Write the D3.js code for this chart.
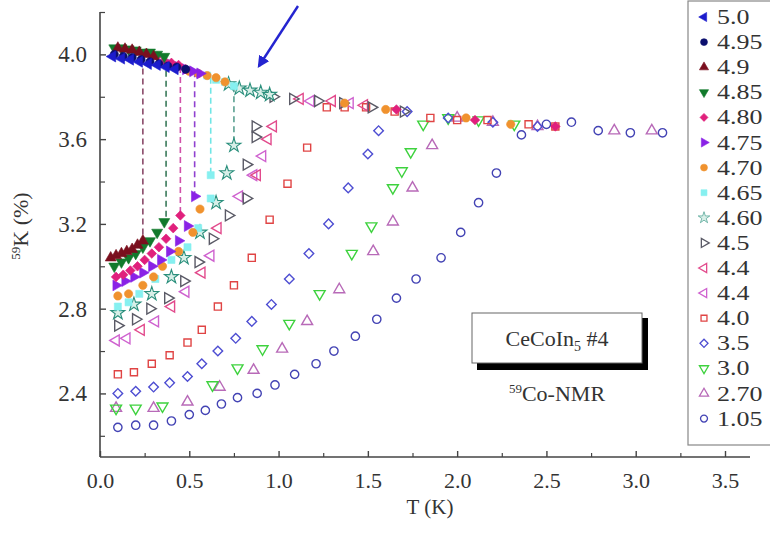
<!DOCTYPE html>
<html><head><meta charset="utf-8">
<script src="https://cdn.jsdelivr.net/npm/d3@7"></script>
<style>
html,body{margin:0;padding:0;background:#fff;}
svg{display:block;}
svg text{font-family:"Liberation Serif","DejaVu Serif",serif !important;}
</style></head>
<body><svg id="c" width="770" height="535"></svg>
<script>
// ---- data ----
const fields = ["5.0","4.95","4.9","4.85","4.80","4.75","4.70","4.65","4.60","4.5","4.4","4.4","4.0","3.5","3.0","2.70","1.05"];
const T_50  = [0.07,0.12,0.17,0.22,0.27,0.32,0.37,0.42];
const K_50  = [3.99,3.98,3.975,3.965,3.955,3.95,3.94,3.93];
const T_495 = [0.08,0.13,0.18,0.23,0.28,0.33,0.38,0.43,0.48];
const K_495 = [4.00,3.99,3.985,3.975,3.965,3.955,3.945,3.94,3.93];
const T_49  = [0.10,0.14,0.18,0.22,0.26,0.30, 0.06,0.09,0.12,0.15,0.18,0.21,0.24];
const K_49  = [4.03,4.025,4.02,4.01,4.00,3.99, 3.04,3.05,3.06,3.07,3.08,3.10,3.12];
const T_485 = [0.08,0.12,0.16,0.20,0.24,0.28,0.32,0.36, 0.08,0.12,0.16,0.20,0.24,0.28,0.32,0.36];
const K_485 = [4.03,4.03,4.025,4.02,4.01,4.01,4.00,3.99, 3.00,3.02,3.04,3.06,3.09,3.12,3.16,3.21];
const T_480 = [0.28,0.32,0.36,0.40,0.44,0.48,1.66,2.10,2.55, 0.09,0.13,0.17,0.21,0.25,0.29,0.33,0.37,0.41,0.45];
const K_480 = [4.00,3.99,3.97,3.96,3.95,3.93,3.74,3.69,3.66, 2.95,2.96,2.98,3.00,3.03,3.06,3.09,3.13,3.18,3.24];
const T_475 = [0.40,0.44,0.48,0.52,0.56, 0.09,0.14,0.19,0.24,0.29,0.34,0.39,0.44,0.49,0.53];
const K_475 = [3.95,3.94,3.93,3.92,3.91, 2.91,2.93,2.95,2.97,3.00,3.03,3.07,3.12,3.19,3.33];
const T_470 = [0.50,0.55,0.60,0.65,0.70,1.37,1.60,2.05,2.30, 0.10,0.16,0.24,0.30,0.35,0.44,0.52,0.56];
const K_470 = [3.92,3.91,3.90,3.89,3.87,3.77,3.74,3.70,3.67, 2.86,2.87,2.91,2.95,3.00,3.07,3.16,3.27];
const T_465 = [0.60,0.65,0.70,0.75, 0.10,0.16,0.22,0.31,0.40,0.49,0.55,0.62,0.62];
const K_465 = [3.90,3.88,3.87,3.85, 2.81,2.83,2.87,2.94,3.03,3.09,3.18,3.32,3.43];
const T_460 = [0.72,0.78,0.84,0.90,0.95, 0.10,0.19,0.29,0.40,0.47,0.56,0.65,0.71,0.75];
const K_460 = [3.86,3.84,3.83,3.82,3.81, 2.78,2.82,2.87,2.95,3.04,3.16,3.30,3.44,3.57];
const T_45  = [0.10,0.20,0.28,0.38,0.47,0.55,0.63,0.72,0.82,0.82,0.87,0.87,0.97,1.08,1.22,1.36,1.52,1.70];
const K_45  = [2.72,2.75,2.80,2.85,2.93,3.02,3.13,3.24,3.32,3.48,3.61,3.66,3.80,3.79,3.78,3.77,3.75,3.73];
const T_44a = [0.23,0.40,0.57,0.66,0.88,0.94,0.97,1.12,1.30,1.48];
const K_44a = [2.70,2.81,2.97,3.18,3.43,3.60,3.66,3.79,3.78,3.76];
const T_44b = [0.09,0.15,0.31,0.48,0.62,0.78,0.86,0.91,1.18,1.40];
const K_44b = [2.65,2.66,2.74,2.88,3.05,3.33,3.43,3.52,3.78,3.77];
const T_40  = [0.10,0.19,0.29,0.39,0.49,0.57,0.66,0.75,0.85,0.95,1.05,1.16,1.27,1.37,1.49,1.65,1.85,2.00,2.17,2.40,2.55];
const K_40  = [2.49,2.50,2.54,2.58,2.64,2.70,2.81,2.91,3.04,3.22,3.39,3.56,3.75,3.75,3.75,3.73,3.70,3.69,3.69,3.67,3.66];
const T_35  = [0.10,0.20,0.30,0.39,0.49,0.57,0.66,0.76,0.85,0.96,1.06,1.17,1.28,1.39,1.50,1.56,1.72,1.95,2.20,2.45];
const K_35  = [2.40,2.41,2.43,2.45,2.48,2.54,2.60,2.66,2.74,2.82,2.94,3.06,3.20,3.37,3.53,3.64,3.73,3.70,3.68,3.66];
const T_30  = [0.09,0.20,0.35,0.63,0.77,0.91,1.06,1.23,1.41,1.52,1.64,1.69,1.74,1.81,1.95,2.12,2.32];
const K_30  = [2.33,2.33,2.34,2.44,2.52,2.61,2.73,2.87,3.06,3.19,3.37,3.45,3.54,3.67,3.70,3.69,3.67];
const T_27  = [0.09,0.30,0.49,0.67,0.86,1.02,1.16,1.34,1.53,1.64,1.75,1.86,2.00,2.20,2.45,2.88,3.09];
const K_27  = [2.33,2.33,2.36,2.43,2.51,2.61,2.74,2.89,3.07,3.21,3.37,3.57,3.70,3.68,3.66,3.64,3.64];
const T_105 = [0.10,0.20,0.30,0.40,0.50,0.59,0.68,0.77,0.88,0.98,1.09,1.21,1.31,1.43,1.55,1.66,1.77,1.91,2.02,2.12,2.22,2.36,2.50,2.64,2.79,2.97,3.15];
const K_105 = [2.24,2.25,2.25,2.27,2.30,2.32,2.35,2.38,2.40,2.44,2.49,2.54,2.60,2.67,2.75,2.85,2.94,3.04,3.16,3.30,3.44,3.62,3.67,3.68,3.64,3.63,3.63];
// transition (dashed) lines: T and K range
const dashT   = [0.24,0.37,0.45,0.53,0.62,0.75];
const dashKlo = [3.12,3.21,3.24,3.33,3.43,3.57];
const dashKhi = [3.98,3.97,3.94,3.92,3.89,3.85];
const xTicks = [0,0.5,1.0,1.5,2.0,2.5,3.0,3.5];
const yTicks = [2.4,2.8,3.2,3.6,4.0];

// ---- styles ----
const styles = [
 {sym:"tri", rot:-90, fill:"#1c1ccc", stroke:"#1c1ccc"},
 {sym:"circle", rot:0, fill:"#0b0f6e", stroke:"#0b0f6e"},
 {sym:"tri", rot:0, fill:"#7a0f1e", stroke:"#7a0f1e"},
 {sym:"tri", rot:180, fill:"#127a2c", stroke:"#127a2c"},
 {sym:"sq", rot:45, fill:"#e0207c", stroke:"#e0207c"},
 {sym:"tri", rot:90, fill:"#8a22e6", stroke:"#8a22e6"},
 {sym:"circle", rot:0, fill:"#f0922e", stroke:"#f0922e"},
 {sym:"sq", rot:0, fill:"#86f0f0", stroke:"#86f0f0"},
 {sym:"star", rot:0, fill:"#d8efe8", stroke:"#2a8f7c"},
 {sym:"tri", rot:90, fill:"none", stroke:"#5a5a66"},
 {sym:"tri", rot:-90, fill:"none", stroke:"#e24a8c"},
 {sym:"tri", rot:-90, fill:"none", stroke:"#cf62cf"},
 {sym:"sq", rot:0, fill:"none", stroke:"#e04444"},
 {sym:"sq", rot:45, fill:"none", stroke:"#4e4ed2"},
 {sym:"tri", rot:180, fill:"none", stroke:"#3ed23e"},
 {sym:"tri", rot:0, fill:"none", stroke:"#b86ab8"},
 {sym:"circle", rot:0, fill:"none", stroke:"#4343b4"}
];
const dashColors = ["#8a4a6a","#3a7a5a","#d050a8","#9040d0","#70e6e6","#5aa090"];

const seriesT = [T_50,T_495,T_49,T_485,T_480,T_475,T_470,T_465,T_460,T_45,T_44a,T_44b,T_40,T_35,T_30,T_27,T_105];
const seriesK = [K_50,K_495,K_49,K_485,K_480,K_475,K_470,K_465,K_460,K_45,K_44a,K_44b,K_40,K_35,K_30,K_27,K_105];

const svg = d3.select("#c");
const x = d3.scaleLinear().domain([0,3.64]).range([100,750]);
const y = d3.scaleLinear().domain([2.1,4.2]).range([457,12]);
const FONT = '"Liberation Serif","DejaVu Serif",serif';

function symPath(s, size){
  const t = s.sym==="circle"?d3.symbolCircle: s.sym==="sq"?d3.symbolSquare: s.sym==="star"?d3.symbolStar:d3.symbolTriangle;
  return d3.symbol().type(t).size(size)();
}
function sizeFor(s){ return s.sym==="circle"?54: s.sym==="sq"?(s.rot?46:50): s.sym==="star"?60:52; }

// dashed lines
const dashData = dashT.map((t,i)=>({t, lo:dashKlo[i], hi:dashKhi[i], c:dashColors[i]}));
svg.append("g").selectAll("line").data(dashData).join("line")
  .attr("x1",d=>x(d.t)).attr("x2",d=>x(d.t))
  .attr("y1",d=>y(d.hi)).attr("y2",d=>y(d.lo))
  .attr("stroke",d=>d.c).attr("stroke-width",1.6).attr("stroke-dasharray","6,4");

// points
const pts = svg.append("g");
for(let i=fields.length-1;i>=0;i--){
  const s = styles[i];
  const data = seriesT[i].map((t,j)=>({t,k:seriesK[i][j]}));
  pts.append("g").selectAll("path").data(data).join("path")
    .attr("d", symPath(s,sizeFor(s)))
    .attr("transform", d=>`translate(${x(d.t)},${y(d.k)}) rotate(${s.rot})`)
    .attr("fill", s.fill).attr("stroke", s.stroke)
    .attr("stroke-width", s.fill==="none"?1.4:(s.sym==="star"?1.1:0.6));
}

// axes
const ax = svg.append("g").attr("transform","translate(0,457)");
ax.call(d3.axisBottom(x).tickValues(xTicks).tickSize(-6).tickFormat(d3.format(".1f")));
ax.attr("font-family",null).attr("font-size",null);
ax.select(".domain").attr("d","M100,0H750").attr("stroke","#444").attr("stroke-width",1.6);
ax.selectAll(".tick line").attr("stroke","#444").attr("stroke-width",1.4);
ax.selectAll(".tick text").attr("y",15).attr("dy","0.71em").attr("fill","#333")
  .style("font-size","22px").style("font-family",FONT);
const axm = svg.append("g").attr("transform","translate(0,457)");
axm.call(d3.axisBottom(x).tickValues(d3.range(0.25,3.5,0.5)).tickSize(-4).tickFormat(""));
axm.select(".domain").remove();
axm.selectAll(".tick line").attr("stroke","#444").attr("stroke-width",1.2);

const ay = svg.append("g").attr("transform","translate(100,0)");
ay.call(d3.axisLeft(y).tickValues(yTicks).tickSize(-6).tickFormat(d3.format(".1f")));
ay.attr("font-family",null).attr("font-size",null);
ay.select(".domain").attr("d","M0,457V12").attr("stroke","#444").attr("stroke-width",1.6);
ay.selectAll(".tick line").attr("stroke","#444").attr("stroke-width",1.4);
ay.selectAll(".tick text").attr("x",-13).attr("fill","#333")
  .style("font-size","23px").style("font-family",FONT);
const aym = svg.append("g").attr("transform","translate(100,0)");
aym.call(d3.axisLeft(y).tickValues([2.2,2.6,3.0,3.4,3.8,4.2]).tickSize(-5).tickFormat(""));
aym.select(".domain").remove();
aym.selectAll(".tick line").attr("stroke","#444").attr("stroke-width",1.2);

// axis titles
svg.append("text").attr("x",430).attr("y",514).attr("text-anchor","middle")
  .style("font-size","21px").style("font-family",FONT).attr("fill","#333").text("T (K)");
const yl = svg.append("text").attr("transform","translate(28,226) rotate(-90)")
  .attr("text-anchor","middle").style("font-size","22px").style("font-family",FONT).attr("fill","#333");
yl.append("tspan").style("font-size","13px").attr("dy",-8).text("59");
yl.append("tspan").attr("dy",8).text("K (%)");

// arrow
svg.append("defs").append("marker").attr("id","ah").attr("viewBox","0 0 10 10")
  .attr("refX",8).attr("refY",5).attr("markerWidth",5).attr("markerHeight",5).attr("orient","auto")
  .append("path").attr("d","M0,0L10,5L0,10z").attr("fill","#2424d0");
svg.append("line").attr("x1",298).attr("y1",6).attr("x2",259).attr("y2",66)
  .attr("stroke","#2424d0").attr("stroke-width",2.4).attr("marker-end","url(#ah)");

// text box
svg.append("rect").attr("x",477).attr("y",318).attr("width",171).attr("height",52).attr("fill","#000");
svg.append("rect").attr("x",472).attr("y",313).attr("width",170).attr("height",50)
  .attr("fill","#fff").attr("stroke","#666").attr("stroke-width",1);
const tb = svg.append("text").attr("x",557).attr("y",346).attr("text-anchor","middle")
  .style("font-size","22px").style("font-family",FONT).attr("fill","#333");
tb.append("tspan").text("CeCoIn");
tb.append("tspan").style("font-size","14px").attr("dy",5).text("5");
tb.append("tspan").attr("dy",-5).text(" #4");
const nm = svg.append("text").attr("x",557).attr("y",401).attr("text-anchor","middle")
  .style("font-size","22px").style("font-family",FONT).attr("fill","#333");
nm.append("tspan").style("font-size","13px").attr("dy",-8).text("59");
nm.append("tspan").attr("dy",8).text("Co-NMR");

// legend
svg.append("rect").attr("x",688).attr("y",1).attr("width",100).attr("height",444)
  .attr("fill","#fff").attr("stroke","#888").attr("stroke-width",1.2);
const lg = svg.append("g").selectAll("g").data(fields).join("g")
  .attr("transform",(d,i)=>`translate(0,${17+i*25.1})`);
lg.append("path").attr("d",(d,i)=>symPath(styles[i], sizeFor(styles[i])*0.7))
  .attr("transform",(d,i)=>`translate(704,0) rotate(${styles[i].rot})`)
  .attr("fill",(d,i)=>styles[i].fill).attr("stroke",(d,i)=>styles[i].stroke)
  .attr("stroke-width",(d,i)=>styles[i].fill==="none"?1.3:0.6);
lg.append("text").attr("transform","translate(717,7) scale(1.18,1)")
  .style("font-size","22px").style("font-family",FONT)
  .attr("fill","#333").text(d=>d);
</script></body></html>
